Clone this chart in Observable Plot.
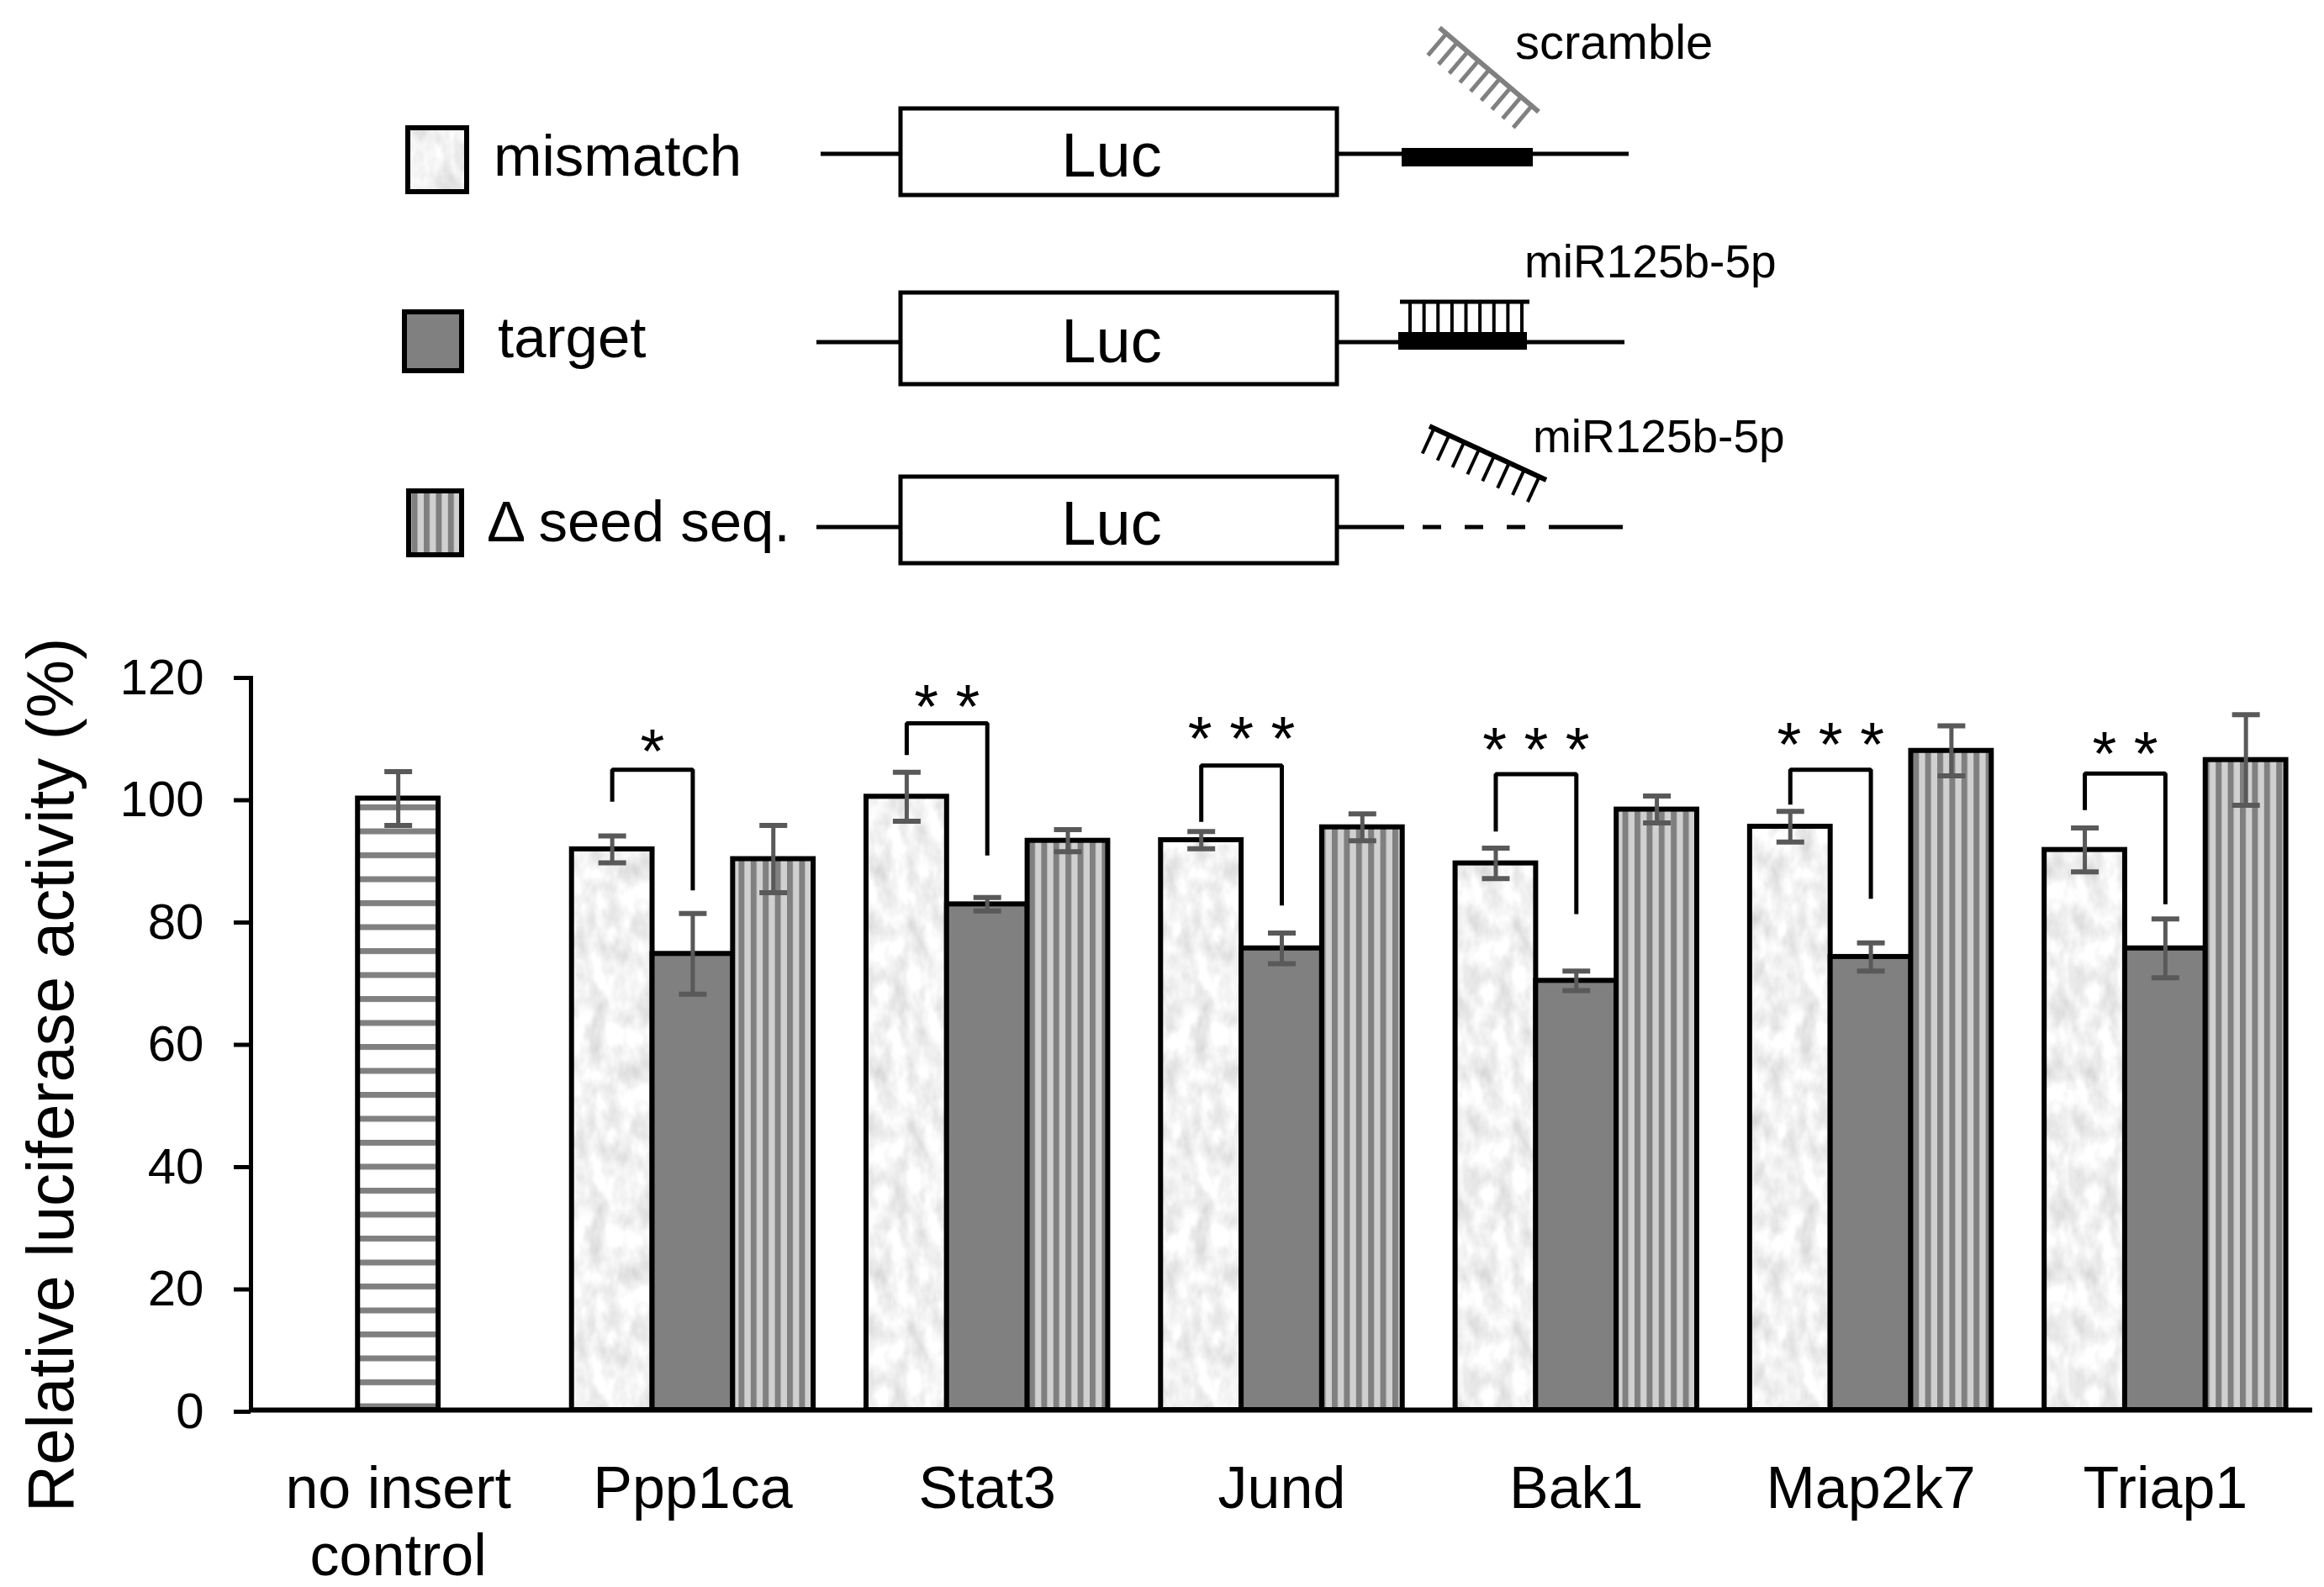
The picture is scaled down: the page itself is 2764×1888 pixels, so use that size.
<!DOCTYPE html>
<html>
<head>
<meta charset="utf-8">
<script src="https://cdn.jsdelivr.net/npm/d3@7"></script>
<script src="https://cdn.jsdelivr.net/npm/@observablehq/plot@0.6"></script>
<style>
  html, body { margin: 0; padding: 0; background: #fff; }
  #wrap { position: relative; width: 2764px; height: 1888px; overflow: hidden; background: #fff;
          font-family: "Liberation Sans", Arial, sans-serif; }
  #schem { position: absolute; left: 0; top: 0; }
  #chart { position: absolute; left: 0; top: 740px; }
</style>
</head>
<body>
<div id="wrap">
<svg id="schem" width="2764" height="740" xmlns="http://www.w3.org/2000/svg">
  <defs>
    <filter id="mottle" x="0" y="0" width="1" height="1" color-interpolation-filters="sRGB">
      <feTurbulence type="fractalNoise" baseFrequency="0.05 0.03" numOctaves="3" seed="5" stitchTiles="stitch"/>
      <feColorMatrix type="matrix" values="0.26 0 0 0 0.82  0.26 0 0 0 0.82  0.26 0 0 0 0.82  0 0 0 0 1"/>
    </filter>
    <pattern id="mm" patternUnits="userSpaceOnUse" width="240" height="240">
      <rect width="240" height="240" fill="#efefef" filter="url(#mottle)"/>
    </pattern>
    <pattern id="seed" patternUnits="userSpaceOnUse" width="14.4" height="10">
      <rect width="14.4" height="10" fill="#d0d0d0"/>
      <rect width="7" height="10" fill="#808080"/>
    </pattern>
    <pattern id="ctrl" patternUnits="userSpaceOnUse" width="10" height="28.5" y="217">
      <rect width="10" height="28.5" fill="#ffffff"/>
      <rect width="10" height="7" fill="#808080"/>
    </pattern>
  </defs>
  <g id="schemG"></g>
</svg>
<div id="chart"></div>
</div>
<script>
// ---------------- data ----------------
const genes = ["no insert\ncontrol", "Ppp1ca", "Stat3", "Jund", "Bak1", "Map2k7", "Triap1"];
const targetGenes = ["Ppp1ca", "Stat3", "Jund", "Bak1", "Map2k7", "Triap1"];
const controlValue = 100.0;
const controlError = 4.4;
const mismatchValues = [91.7, 100.3, 93.2, 89.4, 95.4, 91.6];
const mismatchErrors = [2.2, 4.0, 1.4, 2.5, 2.5, 3.6];
const targetValues = [74.6, 82.7, 75.5, 70.2, 74.1, 75.5];
const targetErrors = [6.6, 1.1, 2.5, 1.6, 2.3, 4.8];
const seedValues = [90.1, 93.1, 95.3, 98.2, 107.8, 106.3];
const seedErrors = [5.5, 1.8, 2.2, 2.2, 4.1, 7.4];
const starLabels = ["*", "* *", "* * *", "* * *", "* * *", "* *"];
const starBaseline = [104.2, 111.6, 106.3, 104.5, 105.4, 103.8];
const bracketTop = [104.7, 112.3, 105.4, 104.0, 104.7, 104.1];
const bracketLeftEnd = [99.5, 107.1, 96.2, 94.6, 99.0, 98.1];
const bracketRightEnd = [85.0, 90.7, 82.5, 81.1, 83.6, 82.7];
const yTicks = [0, 20, 40, 60, 80, 100, 120];
const yLabel = "Relative luciferase activity (%)";

// ---------------- tables ----------------
const slot = 0.2735; // width of one bar as a fraction of a category step
const conds = ["mismatch", "target", "seed"];
const series = {
  mismatch: [mismatchValues, mismatchErrors],
  target: [targetValues, targetErrors],
  seed: [seedValues, seedErrors]
};
const bars = [{cond: "control", gene: genes[0], xc: 0, value: controlValue, err: controlError}];
targetGenes.forEach((g, k) => {
  conds.forEach((c, j) => {
    bars.push({cond: c, gene: g, xc: (k + 1) + (j - 1) * slot, value: series[c][0][k], err: series[c][1][k]});
  });
});
bars.forEach(d => { d.x1 = d.xc - slot / 2; d.x2 = d.xc + slot / 2; d.lo = d.value - d.err; d.hi = d.value + d.err; });
const caps = bars.flatMap(d => [{x: d.xc, y: d.lo}, {x: d.xc, y: d.hi}]);

const bracketPts = targetGenes.flatMap((g, k) => {
  const i = k + 1, xl = i - slot, xr = i;
  return [
    {gene: g, x: xl, y: bracketLeftEnd[k]},
    {gene: g, x: xl, y: bracketTop[k]},
    {gene: g, x: xr, y: bracketTop[k]},
    {gene: g, x: xr, y: bracketRightEnd[k]}
  ];
});
const starData = targetGenes.map((g, k) => ({x: (k + 1) - slot / 2, y: starBaseline[k], label: starLabels[k]}));

const fills = {control: "url(#ctrl)", mismatch: "url(#mm)", target: "#808080", seed: "url(#seed)"};
const barMarks = ["control", "mismatch", "target", "seed"].map(c =>
  Plot.rect(bars.filter(d => d.cond === c), {
    x1: "x1", x2: "x2", y1: 0, y2: "value",
    fill: fills[c], stroke: "black", strokeWidth: 6
  })
);

const capSymbol = {
  draw(ctx, size) { const r = Math.sqrt(size / Math.PI); ctx.moveTo(-r, 0); ctx.lineTo(r, 0); }
};

const plot = Plot.plot({
  width: 2764,
  height: 1148,
  marginTop: 64,
  marginBottom: 211,
  marginLeft: 298,
  marginRight: 14,
  style: {fontFamily: '"Liberation Sans", Arial, sans-serif', color: "black", background: "white"},
  x: {domain: [-0.5, genes.length - 0.5], axis: null},
  y: {domain: [0, 120], axis: null},
  marks: [
    ...barMarks,
    Plot.ruleX(bars, {x: "xc", y1: "lo", y2: "hi", stroke: "#595959", strokeWidth: 5}),
    Plot.dot(caps, {x: "x", y: "y", symbol: capSymbol, r: 16.5, fill: "none", stroke: "#595959", strokeWidth: 6}),
    Plot.line(bracketPts, {x: "x", y: "y", z: "gene", stroke: "black", strokeWidth: 5, strokeLinejoin: "miter", strokeLinecap: "butt"}),
    Plot.text(starData, {x: "x", y: "y", text: "label", fontSize: 74, textAnchor: "middle", lineAnchor: "bottom", fill: "black"}),
    Plot.ruleX([-0.5], {y1: 0, y2: 120, stroke: "black", strokeWidth: 5}),
    Plot.ruleY([0], {x1: -0.5, x2: genes.length - 0.5, stroke: "black", strokeWidth: 6}),
    Plot.axisY({ticks: yTicks, tickSize: 20, tickPadding: 36, fontSize: 60, strokeWidth: 5, label: null, dy: 2}),
    Plot.axisX({ticks: genes.map((_, i) => i), tickFormat: i => genes[i], tickSize: 0, tickPadding: 59,
                fontSize: 70, lineHeight: 1.15, label: null}),
    Plot.text([yLabel], {text: d => d, frameAnchor: "left", rotate: -90, dx: -212, dy: 38,
                         fontSize: 78, textAnchor: "middle", lineAnchor: "bottom", fill: "black"})
  ]
});
document.getElementById("chart").appendChild(plot);

// ---------------- schematic / legend ----------------
const g = d3.select("#schemG");
const FONT = '"Liberation Sans", Arial, sans-serif';
function seg(x1, y1, x2, y2, stroke, w, dash) {
  const l = g.append("line").attr("x1", x1).attr("y1", y1).attr("x2", x2).attr("y2", y2)
    .attr("stroke", stroke).attr("stroke-width", w).attr("stroke-linecap", "butt");
  if (dash) l.attr("stroke-dasharray", dash);
}
function txt(x, y, s, size, anchor) {
  g.append("text").attr("x", x).attr("y", y).attr("font-size", size).attr("font-family", FONT)
    .attr("text-anchor", anchor || "start").attr("fill", "black").text(s);
}
function comb(x0, y0, x1, y1, n, len, t0, t1, stroke, wb, wt) {
  const dx = x1 - x0, dy = y1 - y0, L = Math.hypot(dx, dy);
  const px = -dy / L, py = dx / L; // perpendicular
  const sx = py >= 0 ? 1 : -1;
  seg(x0, y0, x1, y1, stroke, wb);
  for (let k = 0; k < n; k++) {
    const t = t0 + (t1 - t0) * k / (n - 1);
    const bx = x0 + dx * t, by = y0 + dy * t;
    seg(bx, by, bx + sx * px * len, by + sx * py * len, stroke, wt);
  }
}
// legend swatches
g.append("rect").attr("x", 485).attr("y", 152).attr("width", 70).attr("height", 76)
  .attr("fill", "url(#mm)").attr("stroke", "black").attr("stroke-width", 6);
g.append("rect").attr("x", 481).attr("y", 371).attr("width", 68).attr("height", 70)
  .attr("fill", "#808080").attr("stroke", "black").attr("stroke-width", 6);
g.append("rect").attr("x", 486).attr("y", 584).attr("width", 63).attr("height", 76)
  .attr("fill", "url(#seed)").attr("stroke", "black").attr("stroke-width", 6);
txt(587, 209, "mismatch", 69);
txt(592, 425, "target", 69);
txt(579, 644, "\u0394 seed seq.", 69);

// constructs
const rows = [
  {line: 183, top: 129, bot: 232, luc: 210, l0: 976, r1: 1937},
  {line: 407, top: 348, bot: 457, luc: 431, l0: 971, r1: 1932},
  {line: 627, top: 567, bot: 670, luc: 648, l0: 971, r1: 1930}
];
rows.forEach((r, i) => {
  seg(r.l0, r.line, 1071, r.line, "black", 5);
  g.append("rect").attr("x", 1071).attr("y", r.top).attr("width", 519).attr("height", r.bot - r.top)
    .attr("fill", "white").attr("stroke", "black").attr("stroke-width", 5);
  txt(1322, r.luc, "Luc", 74, "middle");
  if (i < 2) seg(1590, r.line, r.r1, r.line, "black", 5);
});
// row 1: scramble
g.append("rect").attr("x", 1667).attr("y", 176).attr("width", 156).attr("height", 22).attr("fill", "black");
comb(1712, 33, 1830, 133, 9, 34, 0.07, 0.93, "#808080", 6, 5);
txt(1802, 70, "scramble", 58);
// row 2: bound miRNA
g.append("rect").attr("x", 1663).attr("y", 395).attr("width", 153).attr("height", 21).attr("fill", "black");
seg(1665, 359, 1819, 359, "black", 5);
for (let k = 0; k < 9; k++) { const x = 1677 + k * (1810 - 1677) / 8; seg(x, 359, x, 396, "black", 4); }
txt(1813, 330, "miR125b-5p", 55);
// row 3: deleted seed
seg(1590, 627, 1670, 627, "black", 5);
seg(1692, 627, 1820, 627, "black", 5, "22 28");
seg(1842, 627, 1930, 627, "black", 5);
comb(1700, 507, 1839, 571, 8, 33, 0.04, 0.94, "black", 6, 4);
txt(1823, 538, "miR125b-5p", 55);
</script>
</body>
</html>
